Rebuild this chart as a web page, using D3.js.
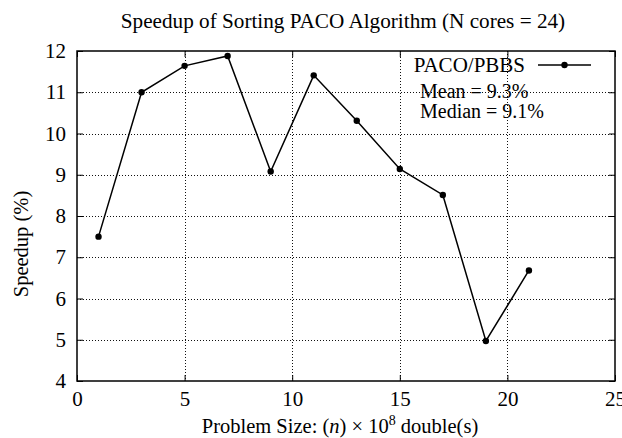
<!DOCTYPE html>
<html lang="en">
<head>
<meta charset="UTF-8">
<title>Speedup of Sorting PACO Algorithm</title>
<script src="https://cdn.jsdelivr.net/npm/d3@7.8.5/dist/d3.min.js"></script>
<style>
    body { margin: 0; background: #fff; }
    svg { display: block; font-family: "Liberation Serif", "Times New Roman", serif; }
    svg text { fill: #000; }
</style>
</head>
<body>
<div id="chart"></div>
<script>
// data
const problemSize = [1, 3, 5, 7, 9, 11, 13, 15, 17, 19, 21];
const speedup = [7.5, 11.0, 11.64, 11.88, 9.08, 11.41, 10.31, 9.14, 8.51, 4.97, 6.68];
const xTicks = [0, 5, 10, 15, 20, 25];
const yTicks = [4, 5, 6, 7, 8, 9, 10, 11, 12];
const seriesName = "PACO/PBBS";
const notes = ["Mean = 9.3%", "Median = 9.1%"];

const W = 622, H = 438;
const margin = {top: 51, right: 7, bottom: 57, left: 77};
const width = W - margin.left - margin.right;
const height = H - margin.top - margin.bottom;

const svg = d3.select("#chart").append("svg")
    .attr("width", W).attr("height", H);

const g = svg.append("g")
    .attr("transform", `translate(${margin.left},${margin.top})`);

const x = d3.scaleLinear().domain([0, 25]).range([0, width]);
const y = d3.scaleLinear().domain([4, 12]).range([height, 0]);

// grid (dotted)
g.append("g").selectAll("line")
    .data(yTicks.slice(1, -1))
    .join("line")
    .attr("x1", 0).attr("x2", width)
    .attr("y1", d => Math.round(y(d)) + 0.5).attr("y2", d => Math.round(y(d)) + 0.5)
    .attr("stroke", "#111").attr("stroke-width", 1)
    .attr("stroke-dasharray", "1,2");

g.append("g").selectAll("line")
    .data(xTicks.slice(1, -1))
    .join("line")
    .attr("y1", 0).attr("y2", height)
    .attr("x1", d => Math.round(x(d)) + 0.5).attr("x2", d => Math.round(x(d)) + 0.5)
    .attr("stroke", "#111").attr("stroke-width", 1)
    .attr("stroke-dasharray", "1,2");

// axes, gnuplot style: ticks inside, mirrored
const tk = 6;
g.append("g")
    .attr("transform", `translate(0,${height})`)
    .call(d3.axisBottom(x).tickValues(xTicks).tickSize(-tk).tickPadding(10))
    .call(a => a.select(".domain").remove());
g.append("g")
    .call(d3.axisTop(x).tickValues(xTicks).tickSize(-tk).tickFormat(""))
    .call(a => a.select(".domain").remove());
g.append("g")
    .call(d3.axisLeft(y).tickValues(yTicks).tickSize(-tk).tickPadding(11))
    .call(a => a.select(".domain").remove());
g.append("g")
    .attr("transform", `translate(${width},0)`)
    .call(d3.axisRight(y).tickValues(yTicks).tickSize(-tk).tickFormat(""))
    .call(a => a.select(".domain").remove());

g.selectAll(".tick line").attr("stroke", "#000").attr("stroke-width", 1);
g.selectAll(".tick text")
    .attr("font-family", "Liberation Serif, serif")
    .attr("font-size", 21)
    .attr("fill", "#000");

// border
g.append("rect")
    .attr("width", width).attr("height", height)
    .attr("fill", "none").attr("stroke", "#000").attr("stroke-width", 1.5);

// line + points
const pts = problemSize.map((s, i) => ({s: s, v: speedup[i]}));
g.append("path")
    .datum(pts)
    .attr("fill", "none")
    .attr("stroke", "#000")
    .attr("stroke-width", 1.5)
    .attr("d", d3.line().x(d => x(d.s)).y(d => y(d.v)));

g.selectAll(".pt")
    .data(pts)
    .join("circle")
    .attr("class", "pt")
    .attr("cx", d => x(d.s)).attr("cy", d => y(d.v))
    .attr("r", 3.2)
    .attr("fill", "#000");

// key
const key = g.append("g");
key.append("text")
    .attr("x", 448).attr("y", 21)
    .attr("text-anchor", "end")
    .attr("font-size", 21)
    .text(seriesName);
key.append("line")
    .attr("x1", 461).attr("x2", 514)
    .attr("y1", 14).attr("y2", 14)
    .attr("stroke", "#000").attr("stroke-width", 1.5);
key.append("circle")
    .attr("cx", 487.5).attr("cy", 14).attr("r", 3.2).attr("fill", "#000");

key.selectAll(".note")
    .data(notes)
    .join("text")
    .attr("class", "note")
    .attr("x", 343)
    .attr("y", (d, i) => 47 + i * 20)
    .attr("font-size", 20)
    .text(d => d);

// titles
svg.append("text")
    .attr("x", margin.left + width / 2 - 3).attr("y", 28)
    .attr("text-anchor", "middle")
    .attr("font-size", 21.2)
    .text("Speedup of Sorting PACO Algorithm (N cores = 24)");

const xl = svg.append("text")
    .attr("x", margin.left + width / 2 - 6).attr("y", 433)
    .attr("text-anchor", "middle")
    .attr("font-size", 20.5);
xl.append("tspan").text("Problem Size:  (");
xl.append("tspan").attr("font-style", "italic").text("n");
xl.append("tspan").text(") × 10");
xl.append("tspan").attr("font-size", 14).attr("dy", -8).text("8");
xl.append("tspan").attr("dy", 8).text(" double(s)");

svg.append("text")
    .attr("transform", `translate(28,${margin.top + height / 2 + 28}) rotate(-90)`)
    .attr("text-anchor", "middle")
    .attr("font-size", 20.5)
    .text("Speedup (%)");
</script>
</body>
</html>
